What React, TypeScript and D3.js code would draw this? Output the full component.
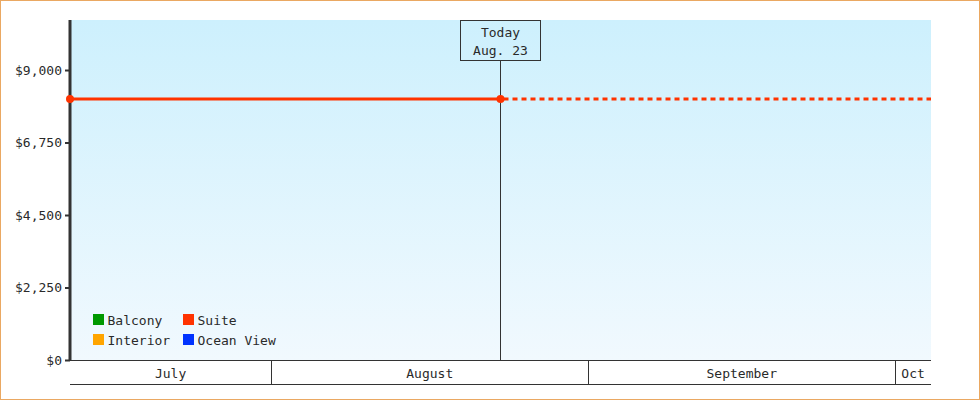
import { useEffect, useRef } from 'react';
import * as d3 from 'd3';

const WIDTH = 980;
const HEIGHT = 400;

// time window shown on the chart
const startDate = new Date(2023, 6, 12, 8);
const endDate = new Date(2023, 9, 4, 12);
const todayDate = new Date(2023, 7, 23, 10);
const todayLabel = ['Today', 'Aug. 23'];

const yTicks = [0, 2250, 4500, 6750, 9000];
const yMax = 10552;

// Suite price history (known up to today, projected after)
const suiteDates = [startDate, todayDate];
const suitePrices = [8100, 8100];
const suiteProjected = [todayDate, endDate];

const legendNames = ['Balcony', 'Interior', 'Suite', 'Ocean View'];
const legendColors = ['#009900', '#ffa500', '#ff3300', '#0033ff'];

const FONT = '"DejaVu Sans Mono", "Liberation Mono", monospace';
const TEXT = '#2a2a2a';

export default function App() {
  const svgRef = useRef<SVGSVGElement>(null);

  useEffect(() => {
    if (!svgRef.current) return;
    const svg = d3.select(svgRef.current);
    svg.selectAll('*').remove();

    const margin = { top: 20, right: 49, bottom: 40, left: 70 };
    const innerWidth = WIDTH - margin.left - margin.right;
    const innerHeight = HEIGHT - margin.top - margin.bottom;

    // outer border
    svg.append('rect')
      .attr('x', 0.5).attr('y', 0.5)
      .attr('width', WIDTH - 1).attr('height', HEIGHT - 1)
      .attr('fill', '#fff')
      .attr('stroke', '#eaa862');

    const defs = svg.append('defs');
    const grad = defs.append('linearGradient')
      .attr('id', 'bg').attr('x1', 0).attr('x2', 0).attr('y1', 0).attr('y2', 1);
    grad.append('stop').attr('offset', '0%').attr('stop-color', '#cdf0fd');
    grad.append('stop').attr('offset', '100%').attr('stop-color', '#f1f9fe');

    const g = svg.append('g').attr('transform', `translate(${margin.left},${margin.top})`);

    const x = d3.scaleTime().domain([startDate, endDate]).range([0, innerWidth]);
    const y = d3.scaleLinear().domain([0, yMax]).range([innerHeight, 0]);

    g.append('rect')
      .attr('width', innerWidth).attr('height', innerHeight)
      .attr('fill', 'url(#bg)');

    // y axis
    const yAxis = g.append('g')
      .call(d3.axisLeft(y).tickValues(yTicks).tickSize(5).tickSizeOuter(0)
        .tickFormat(d => '$' + d3.format(',')(d as number)));
    yAxis.select('.domain').remove();
    yAxis.selectAll('.tick line').attr('stroke', '#333').attr('stroke-width', 2);
    yAxis.selectAll('.tick text')
      .attr('x', -8)
      .style('font-family', FONT).style('font-size', '13px').attr('fill', TEXT);
    g.append('line')
      .attr('x1', 0).attr('x2', 0).attr('y1', 0).attr('y2', innerHeight + 1)
      .attr('stroke', '#333').attr('stroke-width', 3);

    // month band below the plot
    const bandH = 25;
    const months = d3.timeMonth.range(d3.timeMonth.floor(startDate), endDate);
    const mg = g.append('g').attr('transform', `translate(0,${innerHeight})`);
    mg.append('line').attr('x1', 0).attr('x2', innerWidth).attr('y1', 0.5).attr('y2', 0.5)
      .attr('stroke', '#333');
    mg.append('line').attr('x1', 0).attr('x2', innerWidth).attr('y1', bandH - 0.5).attr('y2', bandH - 0.5)
      .attr('stroke', '#333');
    const monthName = d3.timeFormat('%B');
    months.forEach(m => {
      const a = Math.max(x(m), 0);
      const b = Math.min(x(d3.timeMonth.offset(m, 1)), innerWidth);
      if (x(m) > 0) {
        mg.append('line').attr('x1', Math.floor(a) + 0.5).attr('x2', Math.floor(a) + 0.5)
          .attr('y1', 0).attr('y2', bandH).attr('stroke', '#333');
      }
      const label = b - a < 60 ? monthName(m).slice(0, 3) : monthName(m);
      mg.append('text')
        .attr('x', (a + b) / 2).attr('y', 18)
        .attr('text-anchor', 'middle')
        .style('font-family', FONT).style('font-size', '13px').attr('fill', TEXT)
        .text(label);
    });

    // today marker
    const tx = Math.floor(x(todayDate)) + 0.5;
    g.append('line').attr('x1', tx).attr('x2', tx).attr('y1', 40).attr('y2', innerHeight)
      .attr('stroke', '#333');
    g.append('rect')
      .attr('x', tx - 40).attr('y', 0.5).attr('width', 80).attr('height', 40)
      .attr('fill', 'none').attr('stroke', '#333');
    todayLabel.forEach((t, i) => {
      g.append('text')
        .attr('x', tx).attr('y', 17 + i * 18)
        .attr('text-anchor', 'middle')
        .style('font-family', FONT).style('font-size', '13px').attr('fill', TEXT)
        .text(t);
    });

    // suite series
    const suiteColor = legendColors[2];
    const line = d3.line<[Date, number]>().x(d => x(d[0])).y(d => y(d[1]));
    const solid: [Date, number][] = suiteDates.map((d, i) => [d, suitePrices[i]]);
    const dashed: [Date, number][] = suiteProjected.map(d => [d, suitePrices[suitePrices.length - 1]]);
    g.append('path').attr('d', line(solid)!)
      .attr('fill', 'none').attr('stroke', suiteColor).attr('stroke-width', 3);
    g.append('path').attr('d', line(dashed)!)
      .attr('fill', 'none').attr('stroke', suiteColor).attr('stroke-width', 3)
      .attr('stroke-dasharray', '5,4').attr('stroke-dashoffset', -3);
    g.selectAll('.dot').data(solid).join('circle')
      .attr('cx', d => x(d[0])).attr('cy', d => y(d[1])).attr('r', 4)
      .attr('fill', suiteColor);

    // legend
    const lg = g.append('g').attr('transform', 'translate(23,294)');
    legendNames.forEach((name, i) => {
      const col = Math.floor(i / 2);
      const row = i % 2;
      const item = lg.append('g').attr('transform', `translate(${col * 90},${row * 20})`);
      item.append('rect').attr('width', 11).attr('height', 11).attr('fill', legendColors[i]);
      item.append('text').attr('x', 14.5).attr('y', 11)
        .style('font-family', FONT).style('font-size', '13px').attr('fill', TEXT)
        .text(name);
    });
  }, []);

  return (
    <svg ref={svgRef} width={WIDTH} height={HEIGHT}
      style={{ position: 'absolute', left: 0, top: 0 }} />
  );
}
